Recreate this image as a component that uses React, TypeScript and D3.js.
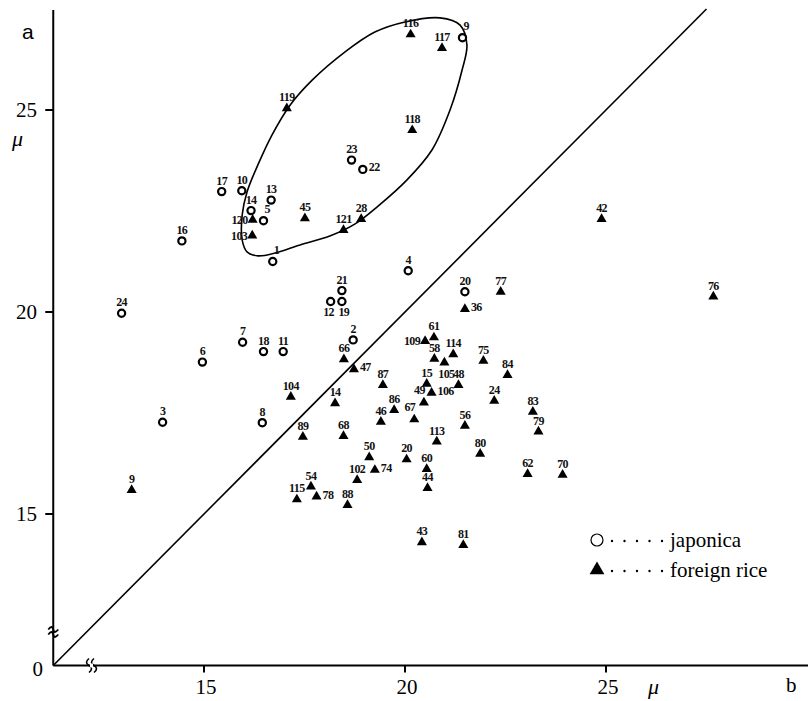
import React from 'react';
import * as d3 from 'd3';

// japonica (circles) — width b vs length a, in micron
const japonica = [
  { id: '1', b: 16.71, a: 21.25 }, { id: '2', b: 18.71, a: 19.31 }, { id: '3', b: 13.97, a: 17.27 },
  { id: '4', b: 20.08, a: 21.02 }, { id: '5', b: 16.48, a: 22.26 }, { id: '6', b: 14.96, a: 18.76 },
  { id: '7', b: 15.96, a: 19.25 }, { id: '8', b: 16.45, a: 17.26 }, { id: '9', b: 21.43, a: 26.79 },
  { id: '10', b: 15.94, a: 23.0 }, { id: '11', b: 16.97, a: 19.02 }, { id: '12', b: 18.15, a: 20.26 },
  { id: '13', b: 16.67, a: 22.77 }, { id: '14', b: 16.17, a: 22.51 }, { id: '16', b: 14.45, a: 21.76 },
  { id: '17', b: 15.44, a: 22.98 }, { id: '18', b: 16.48, a: 19.02 }, { id: '19', b: 18.43, a: 20.26 },
  { id: '20', b: 21.49, a: 20.5 }, { id: '21', b: 18.43, a: 20.53 }, { id: '22', b: 18.95, a: 23.53 },
  { id: '23', b: 18.67, a: 23.76 }, { id: '24', b: 12.95, a: 19.97 },
];

// foreign rice (triangles)
const foreign = [
  { id: '116', b: 20.14, a: 26.87 }, { id: '117', b: 20.92, a: 26.53 }, { id: '119', b: 17.06, a: 25.04 },
  { id: '118', b: 20.18, a: 24.5 }, { id: '120', b: 16.21, a: 22.28 }, { id: '103', b: 16.2, a: 21.89 },
  { id: '45', b: 17.51, a: 22.32 }, { id: '121', b: 18.47, a: 22.03 }, { id: '28', b: 18.91, a: 22.3 },
  { id: '42', b: 24.89, a: 22.3 }, { id: '76', b: 27.67, a: 20.38 }, { id: '77', b: 22.38, a: 20.5 },
  { id: '36', b: 21.49, a: 20.07 }, { id: '61', b: 20.72, a: 19.37 }, { id: '109', b: 20.5, a: 19.28 },
  { id: '114', b: 21.2, a: 18.95 }, { id: '58', b: 20.73, a: 18.84 }, { id: '105', b: 20.98, a: 18.75 },
  { id: '75', b: 21.95, a: 18.79 }, { id: '84', b: 22.55, a: 18.44 }, { id: '66', b: 18.48, a: 18.83 },
  { id: '47', b: 18.73, a: 18.58 }, { id: '87', b: 19.45, a: 18.19 }, { id: '15', b: 20.54, a: 18.22 },
  { id: '48', b: 21.33, a: 18.19 }, { id: '104', b: 17.16, a: 17.9 }, { id: '14', b: 18.26, a: 17.74 },
  { id: '49', b: 20.47, a: 17.76 }, { id: '106', b: 20.66, a: 18.0 }, { id: '24', b: 22.22, a: 17.8 },
  { id: '86', b: 19.73, a: 17.57 }, { id: '83', b: 23.18, a: 17.53 }, { id: '67', b: 20.23, a: 17.34 },
  { id: '46', b: 19.4, a: 17.28 }, { id: '56', b: 21.49, a: 17.18 }, { id: '79', b: 23.32, a: 17.04 },
  { id: '89', b: 17.46, a: 16.91 }, { id: '68', b: 18.47, a: 16.93 }, { id: '113', b: 20.79, a: 16.79 },
  { id: '80', b: 21.87, a: 16.49 }, { id: '50', b: 19.11, a: 16.4 }, { id: '20', b: 20.04, a: 16.35 },
  { id: '74', b: 19.25, a: 16.09 }, { id: '60', b: 20.54, a: 16.11 }, { id: '102', b: 18.81, a: 15.84 },
  { id: '44', b: 20.56, a: 15.64 }, { id: '62', b: 23.05, a: 15.99 }, { id: '70', b: 23.92, a: 15.97 },
  { id: '9', b: 13.2, a: 15.59 }, { id: '115', b: 17.31, a: 15.36 }, { id: '54', b: 17.66, a: 15.68 },
  { id: '78', b: 17.8, a: 15.43 }, { id: '88', b: 18.57, a: 15.22 }, { id: '43', b: 20.42, a: 14.3 },
  { id: '81', b: 21.45, a: 14.23 },
];

// hand drawn loop round the upper group, in data units
const loop: [number, number][] = [
  [20.0, 27.18], [20.87, 27.28], [21.37, 27.1], [21.54, 26.61], [21.42, 25.99], [21.12, 25.0],
  [20.67, 24.01], [20.05, 23.27], [19.33, 22.62], [18.76, 22.18], [18.13, 21.88], [17.39, 21.66],
  [16.77, 21.46], [16.34, 21.39], [16.07, 21.49], [15.95, 21.78], [15.95, 22.4], [16.07, 22.97],
  [16.34, 23.64], [16.69, 24.38], [17.14, 25.12], [17.69, 25.74], [18.51, 26.44], [19.25, 26.93],
];

const ticks = [15, 20, 25];
const legendItems = ['japonica', 'foreign rice'];

// where a point's label sits when not above it
const labelSide: Record<string, string> = {
  j22: 'r', j12: 'bl', j19: 'b', j5: 'ar', j9: 'ar', j1: 'ar',
  f120: 'l', f103: 'l', f36: 'r', f109: 'l', f105: 'b', f47: 'r', f106: 'r',
  f74: 'r', f78: 'r', f49: 'al', f67: 'al',
};

const W = 808;
const H = 701;
const x = d3.scaleLinear().domain([15, 25]).range([204, 606]);
const y = d3.scaleLinear().domain([15, 25]).range([514, 110]);
const axisLow = 11.25; // where the broken axes meet (drawn as 0)
const x0 = x(axisLow);
const y0 = y(axisLow);

const serif = 'Liberation Serif';

function labelProps(key: string, cx: number, cy: number) {
  const s = labelSide[key] || 't';
  if (s === 'r') return { x: cx + 6, y: cy + 2, anchor: 'start' };
  if (s === 'l') return { x: cx - 5, y: cy + 4, anchor: 'end' };
  if (s === 'b') return { x: cx + 2, y: cy + 15, anchor: 'middle' };
  if (s === 'bl') return { x: cx - 2, y: cy + 15, anchor: 'middle' };
  if (s === 'ar') return { x: cx + 1, y: cy - 8, anchor: 'start' };
  if (s === 'al') return { x: cx + 1, y: cy - 8, anchor: 'end' };
  return { x: cx, y: cy - 7, anchor: 'middle' };
}

function Label({ k, cx, cy, text }: { k: string; cx: number; cy: number; text: string }) {
  const p = labelProps(k, cx, cy);
  return (
    <text x={p.x} y={p.y} textAnchor={p.anchor} fontFamily={serif} fontSize={12}
      fontWeight="bold" letterSpacing={-0.6} fill="#111">
      {text}
    </text>
  );
}

const tri = d3.symbol().type(d3.symbolTriangle).size(44);
const triBig = d3.symbol().type(d3.symbolTriangle).size(95);

export default function App() {
  const loopPath = d3.line<[number, number]>()
    .x((d) => x(d[0]))
    .y((d) => y(d[1]))
    .curve(d3.curveCatmullRomClosed.alpha(0.5))(loop) || '';

  const diagEnd = 27.5;

  return (
    <svg width={W} height={H} style={{ position: 'absolute', left: 0, top: 0, background: '#fff' }}>
      {/* axes */}
      <line x1={x0} y1={y0} x2={W} y2={y0} stroke="#000" strokeWidth={2} />
      <line x1={x0} y1={y0} x2={x0} y2={10} stroke="#000" strokeWidth={2} />
      {ticks.map((t) => (
        <g key={'xt' + t}>
          <line x1={x(t)} x2={x(t)} y1={y0} y2={y0 + 7} stroke="#000" strokeWidth={2} />
          <text x={x(t) + 2} y={694} textAnchor="middle" fontFamily={serif} fontSize={21}>{t}</text>
        </g>
      ))}
      {ticks.map((t) => (
        <g key={'yt' + t}>
          <line x1={x0 - 8} x2={x0} y1={y(t)} y2={y(t)} stroke="#000" strokeWidth={2} />
          <text x={37} y={y(t) + 7} textAnchor="end" fontFamily={serif} fontSize={21}>{t}</text>
        </g>
      ))}
      <text x={43} y={676} textAnchor="end" fontFamily={serif} fontSize={21}>0</text>
      <text x={22} y={39} fontFamily="Liberation Sans" fontSize={21}>a</text>
      <text x={12} y={146} fontFamily={serif} fontStyle="italic" fontSize={22}>μ</text>
      <text x={648} y={694} fontFamily={serif} fontStyle="italic" fontSize={22}>μ</text>
      <text x={786} y={692} fontFamily={serif} fontSize={21}>b</text>

      {/* axis breaks */}
      <path d={`M${x0 - 5},${y0 - 36} q4,-5 5,0 q1,5 5,0 M${x0 - 5},${y0 - 31} q4,-5 5,0 q1,5 5,0`}
        fill="none" stroke="#000" strokeWidth={1.8} />
      <path d={`M89,${y0 - 7} q-5,4 0,7 q5,3 0,7 M94,${y0 - 7} q-5,4 0,7 q5,3 0,7`}
        fill="none" stroke="#000" strokeWidth={1.6} />
      <rect x={90} y={y0 - 2} width={3} height={4} fill="#fff" />

      {/* y = x line */}
      <line x1={x0} y1={y0} x2={x(diagEnd)} y2={y(diagEnd)} stroke="#000" strokeWidth={1.6} />

      {/* loop */}
      <path d={loopPath} fill="none" stroke="#000" strokeWidth={1.6} />

      {/* japonica */}
      {japonica.map((d) => (
        <g key={'j' + d.id}>
          <circle cx={x(d.b)} cy={y(d.a)} r={3.6} fill="#fff" stroke="#000" strokeWidth={2.2} />
          <Label k={'j' + d.id} cx={x(d.b)} cy={y(d.a)} text={d.id} />
        </g>
      ))}

      {/* foreign rice */}
      {foreign.map((d) => (
        <g key={'f' + d.id}>
          <path d={tri() || ''} transform={`translate(${x(d.b)},${y(d.a)})`} fill="#000" />
          <Label k={'f' + d.id} cx={x(d.b)} cy={y(d.a)} text={d.id} />
        </g>
      ))}

      {/* legend */}
      <g fontFamily={serif} fontSize={21}>
        {legendItems.map((name, i) => {
          const ly = 540 + i * 30;
          return (
            <g key={name}>
              {i === 0
                ? <circle cx={597} cy={ly} r={6} fill="none" stroke="#000" strokeWidth={1.2} />
                : <path d={triBig() || ''} transform={`translate(597,${ly})`} fill="#000" />}
              {d3.range(5).map((k) => (
                <circle key={k} cx={612 + k * 12.5} cy={ly + 1} r={1.2} fill="#000" />
              ))}
              <text x={670} y={ly + 7}>{name}</text>
            </g>
          );
        })}
      </g>
    </svg>
  );
}
